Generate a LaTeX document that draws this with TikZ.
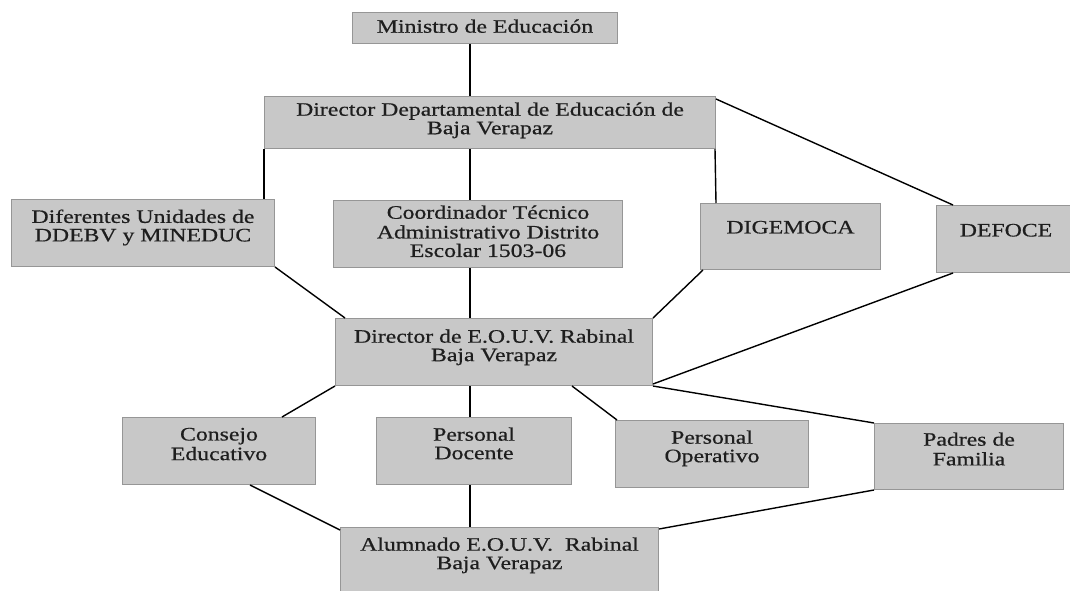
\documentclass[tikz,border=0pt]{standalone}
\usepackage{fontspec}
\setmainfont{Liberation Serif}[FakeStretch=1.25, FakeBold=0.6]
\usepackage{tikz}
\definecolor{boxfill}{RGB}{200,200,200}
\definecolor{boxline}{RGB}{150,150,150}
\definecolor{boxtextc}{RGB}{30,30,30}
\newcommand{\boxtext}[4]{\parbox[c][#2pt][t]{#1pt}{\centering\vspace*{#3pt}\strut #4}}
\tikzset{orgbox/.style={draw=boxline, fill=boxfill, line width=1pt, inner sep=0pt, anchor=north west, text=boxtextc, font=\fontsize{19}{18.5}\selectfont},
  link/.style={line width=1.4pt}}

\begin{document}
\begin{tikzpicture}[x=1pt, y=-1pt]
\useasboundingbox (0,0) rectangle (1070,591);
\node[orgbox] (ministro) at (352,12) {\boxtext{265}{31}{7}{Ministro de Educación}};
\node[orgbox] (dirdep) at (264,96) {\boxtext{451}{52}{6}{Director Departamental de Educación de\\ Baja Verapaz}};
\node[orgbox] (diferentes) at (11,199) {\boxtext{263}{67}{10}{Diferentes Unidades de\\ DDEBV y MINEDUC}};
\node[orgbox] (coord) at (333,200) {\boxtext{289}{67}{5}{\hspace*{20pt}Coordinador Técnico\\ \hspace*{20pt}Administrativo Distrito\\ \hspace*{20pt}Escolar 1503-06}};
\node[orgbox] (digemoca) at (700,203) {\boxtext{180}{66}{17}{DIGEMOCA}};
\node[orgbox] (defoce) at (936,205) {\boxtext{139}{67}{18}{DEFOCE}};
\node[orgbox] (direx) at (335,318) {\boxtext{317}{67}{11}{Director de E.O.U.V. Rabinal\\ Baja Verapaz}};
\node[orgbox] (consejo) at (122,417) {\boxtext{193}{67}{10}{Consejo\\ Educativo}};
\node[orgbox] (docente) at (376,417) {\boxtext{195}{67}{10}{Personal\\ Docente}};
\node[orgbox] (operativo) at (615,420) {\boxtext{193}{67}{10}{Personal\\ Operativo}};
\node[orgbox] (padres) at (874,423) {\boxtext{189}{66}{9}{Padres de\\ Familia}};
\node[orgbox] (alumnado) at (340,527) {\boxtext{318}{68}{10}{Alumnado E.O.U.V.\ \ Rabinal\\ Baja Verapaz}};

\coordinate (spine) at (470,0);
\draw[link] (ministro.south -| spine) -- (dirdep.north -| spine);
\draw[link] (dirdep.south -| spine) -- (coord.north -| spine);
\draw[link] (coord.south -| spine) -- (direx.north -| spine);
\draw[link] (direx.south -| spine) -- (docente.north -| spine);
\draw[link] (docente.south -| spine) -- (alumnado.north -| spine);
\draw[link] (dirdep.south west) -- (dirdep.south west |- diferentes.north);
\draw[link] ([xshift=-1pt]dirdep.south east) -- ([xshift=16pt]digemoca.north west);
\draw[link] ([yshift=-3pt]dirdep.north east) -- ([xshift=17pt]defoce.north west);
\draw[link] (diferentes.south east) -- ([xshift=10pt]direx.north west);
\draw[link] ([xshift=3pt]digemoca.south west) -- (direx.north east);
\draw[link] ([xshift=17pt]defoce.south west) -- ([yshift=2pt]direx.south east);
\draw[link] (direx.south west) -- ([xshift=160pt]consejo.north west);
\draw[link] ([xshift=237pt]direx.south west) -- ([xshift=2pt]operativo.north west);
\draw[link] (direx.south east) -- (padres.north west);
\draw[link] ([xshift=128pt]consejo.south west) -- ([yshift=-3pt]alumnado.north west);
\draw[link] (padres.south west) -- ([yshift=-2pt]alumnado.north east);
\end{tikzpicture}
\end{document}
